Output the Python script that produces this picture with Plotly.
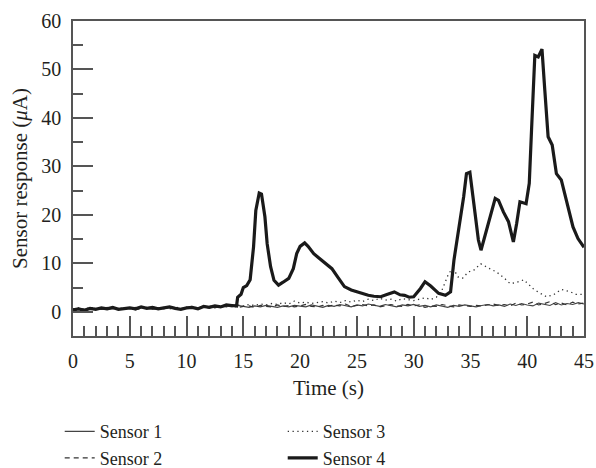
import plotly.graph_objects as go

# ---- data ----
t_base = [i * 0.5 for i in range(91)]  # 0..45 s every 0.5 s

sensor1 = [0.5, 0.7, 0.4, 0.8, 0.6, 0.5, 0.9, 0.6, 0.7, 0.5, 0.8, 0.6, 0.9, 0.7, 0.5, 0.8,
           0.6, 1.0, 0.7, 0.6, 0.9, 0.7, 0.8, 1.0, 0.8, 1.1, 0.9, 1.2, 1.0, 1.3, 1.1, 0.9,
           1.2, 1.0, 1.3, 1.1, 0.9, 1.2, 1.0, 1.3, 1.1, 1.0, 1.4, 1.2, 0.9, 1.3, 1.1, 1.5,
           1.2, 1.0, 1.4, 1.2, 1.6, 1.3, 1.1, 1.5, 1.3, 1.0, 1.4, 1.2, 1.5, 1.1, 1.3, 1.0,
           1.4, 1.2, 0.9, 1.3, 1.1, 1.4, 1.2, 1.0, 1.3, 1.5, 1.2, 1.4, 1.1, 1.6, 1.3, 1.7,
           1.4, 1.2, 1.8, 1.5, 1.3, 1.9, 1.4, 1.7, 1.5, 1.9, 1.6]

sensor2 = [0.3, 0.6, 0.5, 0.4, 0.8, 0.6, 0.4, 0.7, 0.5, 0.9, 0.6, 0.4, 0.7, 0.9, 0.6, 0.5,
           0.8, 0.6, 0.9, 0.5, 0.7, 0.8, 0.6, 0.9, 1.0, 0.8, 1.2, 1.0, 1.3, 0.9, 1.1, 1.2,
           0.9, 1.3, 1.1, 1.0, 1.4, 1.1, 1.3, 1.0, 1.2, 1.5, 1.1, 1.0, 1.3, 1.1, 1.4, 1.2,
           1.6, 1.1, 1.3, 1.5, 1.2, 1.4, 1.0, 1.3, 1.5, 1.2, 1.1, 1.5, 1.2, 1.4, 0.9, 1.2,
           1.1, 1.5, 1.2, 1.0, 1.4, 1.2, 1.1, 1.3, 1.2, 1.4, 1.6, 1.3, 1.5, 1.2, 1.8, 1.4,
           1.6, 2.0, 1.4, 1.7, 2.1, 1.5, 1.8, 1.4, 2.0, 1.6, 1.8]

t3 = [0.0, 0.5, 1.0, 1.5, 2.0, 2.5, 3.0, 3.5, 4.0, 4.5, 5.0, 5.5, 6.0, 6.5, 7.0, 7.5, 8.0,
      8.5, 9.0, 9.5, 10.0, 10.5, 11.0, 11.5, 12.0, 12.5, 13.0, 13.5, 14.0, 14.5, 15.0, 15.5,
      16.0, 16.5, 17.0, 17.5, 18.0, 18.5, 19.0, 19.5, 20.0, 20.5, 21.0, 21.5, 22.0, 22.5,
      23.0, 23.5, 24.0, 24.5, 25.0, 25.5, 26.0, 26.5, 27.0, 27.5, 28.0, 28.5, 29.0, 29.5,
      30.0, 30.5, 31.0, 31.5, 32.0, 32.5, 32.8, 33.1, 33.5, 33.9, 34.3, 34.8, 35.3, 35.9,
      36.7, 37.3, 38.0, 38.5, 39.0, 39.7, 40.5, 41.0, 41.7, 42.3, 43.0, 43.7, 44.3, 45.0]
sensor3 = [0.6, 0.8, 0.5, 0.9, 0.7, 0.6, 0.8, 0.9, 0.6, 0.8, 0.7, 0.9, 0.6, 0.8, 1.0, 0.7,
           0.9, 0.8, 1.0, 0.7, 0.9, 1.1, 0.8, 1.0, 1.2, 0.9, 1.1, 1.3, 1.2, 1.4, 1.2, 1.5,
           1.3, 1.6, 1.4, 1.7, 1.5, 1.9, 1.6, 2.2, 1.8, 2.0, 1.7, 1.9, 2.1, 1.8, 2.2, 1.9,
           2.3, 2.0, 2.4, 2.1, 2.6, 2.3, 2.8, 2.4, 2.6, 2.2, 2.7, 2.5, 2.3, 2.6, 2.9, 2.5,
           3.0, 4.5, 6.2, 8.0, 8.9, 7.2, 6.9, 8.2, 8.6, 9.9, 8.9, 8.2, 6.9, 5.8, 6.0, 6.6,
           4.8, 4.0, 3.1, 3.5, 4.6, 4.2, 3.6, 3.6]

t4 = [0.0, 0.5, 1.0, 1.5, 2.0, 2.5, 3.0, 3.5, 4.0, 4.5, 5.0, 5.5, 6.0, 6.5, 7.0, 7.5, 8.0,
      8.5, 9.0, 9.5, 10.0, 10.5, 11.0, 11.5, 12.0, 12.5, 13.0, 13.5, 14.0, 14.4, 14.5, 14.8,
      15.0, 15.3, 15.6, 15.9, 16.1, 16.4, 16.6, 16.9, 17.1, 17.4, 17.7, 18.1, 18.5, 19.0,
      19.4, 19.7, 20.0, 20.4, 20.7, 21.2, 21.6, 22.2, 22.8, 23.3, 23.9, 24.5, 25.4, 26.0,
      26.5, 27.1, 27.7, 28.3, 28.8, 29.2, 29.6, 30.0, 30.6, 31.0, 31.5, 32.2, 32.8, 33.25,
      33.55, 34.0, 34.4, 34.65, 34.95, 35.3, 35.7, 35.93, 36.3, 36.74, 37.18, 37.47, 37.9,
      38.35, 38.78, 39.07, 39.36, 39.9, 40.18, 40.38, 40.67, 40.97, 41.3, 41.55, 41.84,
      42.2, 42.57, 43.0, 43.44, 44.03, 44.47, 45.0]
sensor4 = [0.4, 0.6, 0.3, 0.7, 0.5, 0.8, 0.6, 0.9, 0.5, 0.7, 0.8, 0.6, 1.0, 0.7, 0.9, 0.6,
           0.8, 1.0, 0.7, 0.5, 0.8, 0.9, 0.6, 1.1, 0.9, 1.2, 1.0, 1.4, 1.3, 1.2, 3.0, 3.6,
           5.0, 5.4, 6.6, 13.4, 20.9, 24.5, 24.3, 19.6, 14.0, 9.3, 6.5, 5.5, 6.1, 6.9,
           8.9, 12.0, 13.5, 14.2, 13.5, 12.0, 11.2, 10.1, 8.9, 7.2, 5.2, 4.5, 3.8, 3.4,
           3.2, 3.1, 3.6, 4.1, 3.5, 3.4, 3.0, 3.1, 4.8, 6.2, 5.3, 3.8, 3.4, 4.1,
           10.7, 17.5, 23.7, 28.5, 28.8, 22.3, 14.8, 12.7, 15.8, 19.6, 23.4, 23.0, 20.6,
           18.6, 14.4, 18.2, 22.7, 22.3, 26.5, 37.5, 52.9, 52.6, 54.2, 45.7, 36.1,
           34.4, 28.5, 27.2, 23.0, 17.5, 15.1, 13.3]

x_ticks = [0, 5, 10, 15, 20, 25, 30, 35, 40, 45]
y_ticks = [0, 10, 20, 30, 40, 50, 60]

FONT = "Liberation Serif"
INK = "#231f20"
AX = "#555555"

fig = go.Figure()
fig.add_trace(go.Scatter(x=t_base, y=sensor1, mode="lines", name="Sensor 1",
                         line=dict(color="#444444", width=1.2), legendrank=1))
fig.add_trace(go.Scatter(x=t_base, y=sensor2, mode="lines", name="Sensor 2",
                         line=dict(color="#333333", width=1.2, dash="5px,4px"), legendrank=3))
fig.add_trace(go.Scatter(x=t3, y=sensor3, mode="lines", name="Sensor 3",
                         line=dict(color="#333333", width=1.3, dash="1.3px,3.5px"), legendrank=2))
fig.add_trace(go.Scatter(x=t4, y=sensor4, mode="lines", name="Sensor 4",
                         line=dict(color="#1a1a1a", width=3.2), legendrank=4))

axis_common = dict(showgrid=False, zeroline=False, showline=True, linecolor=AX,
                   linewidth=1.5, mirror=True, ticks="inside", tickcolor=AX,
                   tickwidth=1.5, ticklen=20, ticklabeloverflow="allow",
                   tickfont=dict(family=FONT, size=20, color=INK))

fig.update_xaxes(range=[0, 45], tickvals=x_ticks, ticktext=[str(v) for v in x_ticks],
                 minor=dict(dtick=1, ticks="inside", ticklen=10, tickcolor=AX, tickwidth=1.5),
                 title=dict(text="Time (s)", font=dict(family=FONT, size=21, color=INK), standoff=10),
                 ticklabelstandoff=6, **axis_common)
fig.update_yaxes(range=[-5, 60], tickvals=y_ticks, ticktext=[str(v) for v in y_ticks],
                 minor=dict(dtick=5, ticks="inside", ticklen=10, tickcolor=AX, tickwidth=1.5),
                 title=dict(text="Sensor response (<i>μ</i>A)", font=dict(family=FONT, size=21, color=INK), standoff=8),
                 ticklabelstandoff=6, **axis_common)

fig.update_layout(
    width=596, height=468,
    margin=dict(l=73, r=12, t=21, b=132, autoexpand=False),
    paper_bgcolor="white", plot_bgcolor="white",
    font=dict(family=FONT, color=INK),
    showlegend=True,
    legend=dict(orientation="h", x=-0.026, xanchor="left", y=-0.245, yanchor="top",
                entrywidth=178, font=dict(family=FONT, size=18, color=INK),
                traceorder="normal", itemwidth=30, tracegroupgap=0),
)

fig.write_html("out.html")
